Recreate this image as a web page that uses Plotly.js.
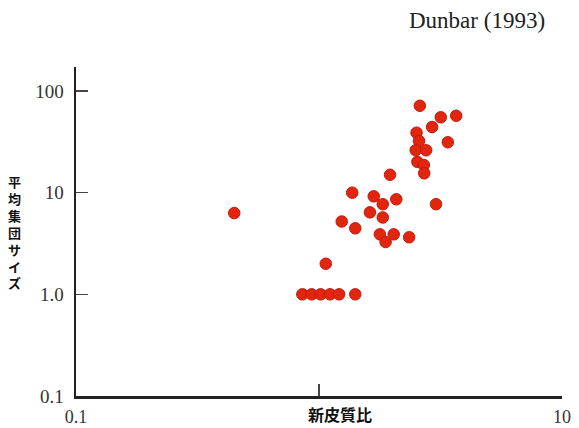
<!DOCTYPE html>
<html>
<head>
<meta charset="utf-8">
<script src="https://cdn.plot.ly/plotly-3.0.1.min.js"></script>
<style>html,body{margin:0;padding:0;background:#fff;}#chart{width:579px;height:428px;}</style>
</head>
<body>
<div id="chart"></div>
<script>
// Neocortex ratio (x) vs mean group size (y)
var neocortexRatio = [2.60, 3.17, 3.67, 2.92, 2.52, 2.58, 3.39, 2.50, 2.76, 2.54, 2.70, 2.71, 1.96,
  1.37, 1.68, 2.08, 1.83, 3.03, 0.448, 1.62, 1.83, 1.24, 1.41, 1.78, 2.03, 2.35, 1.88, 1.066,
  0.854, 0.933, 1.016, 1.11, 1.21, 1.41];
var meanGroupSize = [71.6, 55.1, 57.1, 44.2, 38.9, 32.2, 31.3, 26.1, 26.1, 20.1, 18.7, 15.5, 15.0,
  10.0, 9.2, 8.6, 7.7, 7.7, 6.3, 6.4, 5.7, 5.2, 4.46, 3.89, 3.89, 3.64, 3.27, 2.0,
  1.0, 1.0, 1.0, 1.0, 1.0, 1.0];
var xTickVals = [0.1, 1, 10];
var xTickText = ['0.1', '', '10'];
var yTickVals = [0.1, 1, 10, 100];
var yTickText = ['0.1', '1.0', '10', '100'];
var xTitle = '新皮質比';
var yTitle = '平均集団サイズ';
var sourceText = 'Dunbar (1993)';

var serif = 'Liberation Serif, Times New Roman, serif';
var cjk = 'Noto Sans CJK JP, sans-serif';

var trace = {
  type: 'scatter', mode: 'markers',
  x: neocortexRatio, y: meanGroupSize,
  marker: {size: 11.5, color: '#e2260e', line: {color: '#c4180c', width: 1}},
  hoverinfo: 'x+y'
};

var layout = {
  width: 579, height: 428,
  margin: {l: 76, r: 17, t: 67, b: 32},
  paper_bgcolor: '#fff', plot_bgcolor: '#fff',
  showlegend: false,
  xaxis: {
    type: 'log', range: [-1, 1], tickmode: 'array', tickvals: xTickVals, ticktext: xTickText,
    showgrid: false, zeroline: false, showline: true, linecolor: '#222', linewidth: 2.5,
    ticks: 'inside', ticklen: 12, tickwidth: 1.5, tickcolor: '#444',
    tickfont: {family: serif, size: 18, color: '#333'}, ticklabelstandoff: 3
  },
  yaxis: {
    type: 'log', range: [-1, 2.236], tickmode: 'array', tickvals: yTickVals, ticktext: yTickText,
    showgrid: false, zeroline: false, showline: true, linecolor: '#222', linewidth: 2.5,
    ticks: 'inside', ticklen: 12, tickwidth: 1.5, tickcolor: '#444',
    tickfont: {family: serif, size: 19, color: '#333'}, ticklabelstandoff: 6
  },
  annotations: [
    {text: sourceText, xref: 'paper', yref: 'paper', x: 1.0, y: 1, xanchor: 'right', yanchor: 'middle',
     yshift: 47, xshift: -15, showarrow: false, font: {family: serif, size: 23, color: '#222'}},
    {text: xTitle, xref: 'paper', yref: 'paper', x: 0.544, y: 0, yshift: -18, xanchor: 'center', yanchor: 'middle',
     showarrow: false, font: {family: cjk, size: 16, color: '#111', weight: 'bold'}},
    {text: yTitle.split('').join('<br>'), xref: 'paper', yref: 'paper', x: 0, xshift: -62, y: 0.5,
     xanchor: 'center', yanchor: 'middle', showarrow: false,
     font: {family: cjk, size: 13, color: '#111', weight: 'bold'}}
  ]
};

Plotly.newPlot('chart', [trace], layout, {displayModeBar: false, staticPlot: true});
</script>
</body>
</html>
